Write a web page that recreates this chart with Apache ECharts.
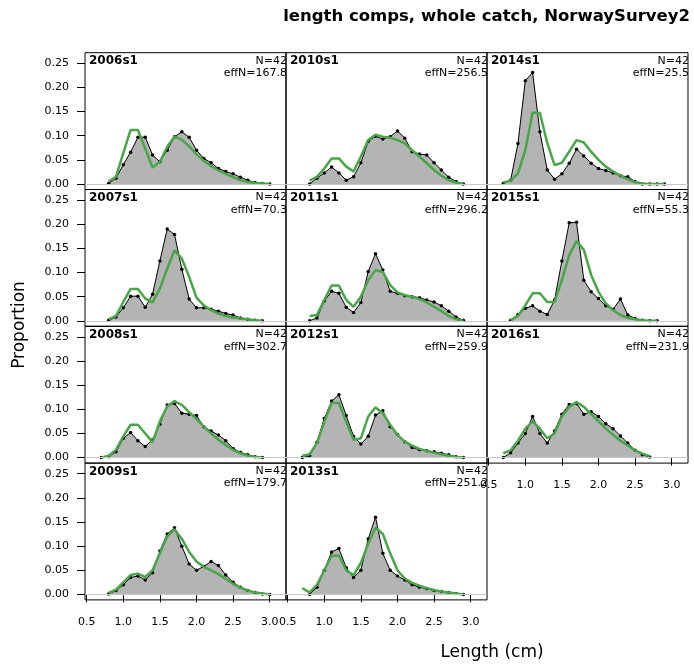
<!DOCTYPE html>
<html><head><meta charset="utf-8">
<script src="https://cdn.jsdelivr.net/npm/echarts@6/dist/echarts.min.js"></script>
<style>html,body{margin:0;padding:0;background:#fff}#c{width:694px;height:668px}</style>
</head><body><div id="c"></div>
<script>
// Length bins (cm)
const bins = [0.7,0.8,0.9,1.0,1.1,1.2,1.3,1.4,1.5,1.6,1.7,1.8,1.9,2.0,2.1,2.2,2.3,2.4,2.5,2.6,2.7,2.8,2.9,3.0];
const xTickValues = [0.5,1.0,1.5,2.0,2.5,3.0];
const yTickValues = [0.00,0.05,0.10,0.15,0.20,0.25];

const panelNames = ['2006s1','2007s1','2008s1','2009s1','2010s1','2011s1','2012s1','2013s1','2014s1','2015s1','2016s1'];
const nSamp = [42,42,42,42,42,42,42,42,42,42,42];
const effN = ['167.8','70.3','302.7','179.7','256.5','296.2','259.9','251.2','25.5','55.3','231.9'];

// observed proportions (null = no bin drawn)
const obs2006 = [null,0.001,0.012,0.04,0.066,0.097,0.097,0.06,0.046,0.07,0.098,0.108,0.097,0.07,0.053,0.044,0.032,0.026,0.021,0.014,0.008,0.003,0.001,0];
const exp2006 = [null,0.005,0.015,0.064,0.112,0.112,0.073,0.034,0.046,0.077,0.098,0.092,0.078,0.062,0.048,0.037,0.028,0.021,0.014,0.008,0.004,0.002,0.001,0];
const obs2007 = [null,0.001,0.008,0.027,0.051,0.051,0.028,0.055,0.124,0.19,0.179,0.107,0.045,0.027,0.027,0.024,0.02,0.015,0.012,0.006,0.003,0.001,0,null];
const exp2007 = [null,0.003,0.01,0.039,0.066,0.066,0.046,0.038,0.067,0.108,0.146,0.129,0.091,0.048,0.032,0.022,0.015,0.01,0.007,0.005,0.003,0.001,0,null];
const obs2008 = [0,0.002,0.012,0.04,0.052,0.035,0.023,0.037,0.069,0.109,0.112,0.092,0.09,0.087,0.064,0.055,0.047,0.035,0.019,0.011,0.006,0.002,0,null];
const exp2008 = [0,0.004,0.016,0.044,0.068,0.068,0.05,0.032,0.075,0.106,0.117,0.109,0.094,0.08,0.064,0.05,0.037,0.026,0.016,0.009,0.004,0.001,0,null];
const obs2009 = [null,0.001,0.008,0.02,0.035,0.038,0.03,0.045,0.09,0.125,0.138,0.1,0.063,0.05,0.058,0.068,0.06,0.04,0.025,0.015,0.008,0.004,0.001,0];
const exp2009 = [null,0.003,0.01,0.025,0.04,0.043,0.036,0.05,0.085,0.12,0.135,0.115,0.088,0.068,0.057,0.05,0.042,0.032,0.022,0.014,0.008,0.004,0.002,0];
const obs2010 = [null,0,0.012,0.023,0.035,0.023,0.008,0.015,0.044,0.088,0.099,0.093,0.098,0.11,0.095,0.067,0.062,0.06,0.044,0.029,0.014,0.005,0,null];
const exp2010 = [null,0.007,0.015,0.032,0.053,0.053,0.036,0.026,0.057,0.091,0.102,0.098,0.096,0.091,0.084,0.07,0.057,0.043,0.029,0.017,0.008,0.003,0,null];
const obs2011 = [null,0,0.006,0.041,0.061,0.057,0.028,0.017,0.038,0.102,0.139,0.105,0.061,0.057,0.052,0.05,0.048,0.043,0.039,0.031,0.02,0.008,0.001,null];
const exp2011 = [null,0.01,0.012,0.043,0.073,0.073,0.043,0.029,0.05,0.084,0.105,0.101,0.074,0.059,0.053,0.05,0.045,0.038,0.029,0.02,0.01,0.003,0,null];
const obs2012 = [0,0.004,0.032,0.081,0.117,0.13,0.087,0.044,0.028,0.044,0.088,0.097,0.064,0.048,0.033,0.021,0.016,0.014,0.012,0.009,0.006,0.002,0,null];
const exp2012 = [0.004,0.007,0.03,0.074,0.113,0.113,0.074,0.037,0.04,0.085,0.104,0.092,0.068,0.047,0.033,0.025,0.018,0.014,0.01,0.007,0.004,0.001,0,null];
const obs2013 = [null,0,0.015,0.05,0.088,0.095,0.055,0.035,0.05,0.115,0.16,0.085,0.05,0.038,0.03,0.02,0.015,0.012,0.008,0.006,0.004,0.002,0,null];
const exp2013 = [0.013,0.004,0.02,0.05,0.08,0.08,0.05,0.04,0.065,0.105,0.138,0.125,0.085,0.05,0.033,0.024,0.018,0.013,0.009,0.006,0.004,0.002,0,null];
const obs2014 = [0.001,0.008,0.084,0.214,0.231,0.108,0.029,0.01,0.021,0.043,0.072,0.058,0.043,0.032,0.028,0.023,0.017,0.015,0.005,0,0,0,0,null];
const exp2014 = [0.003,0.007,0.022,0.07,0.148,0.147,0.085,0.039,0.044,0.067,0.091,0.086,0.067,0.05,0.036,0.026,0.017,0.01,0.004,0.001,0,0,0,null];
const obs2015 = [null,0.001,0.013,0.026,0.031,0.02,0.013,0.043,0.124,0.203,0.204,0.084,0.06,0.046,0.031,0.024,0.045,0.012,0.005,0.001,0,0,null,null];
const exp2015 = [null,0.001,0.01,0.032,0.057,0.057,0.039,0.039,0.084,0.136,0.165,0.147,0.095,0.06,0.036,0.022,0.012,0.006,0.003,0.001,0,0,null,null];
const obs2016 = [0,0.01,0.03,0.05,0.085,0.05,0.03,0.055,0.09,0.11,0.112,0.09,0.095,0.085,0.07,0.06,0.045,0.03,0.015,0.006,0.001,null,null,null];
const exp2016 = [0.009,0.015,0.035,0.06,0.075,0.06,0.04,0.05,0.085,0.105,0.115,0.105,0.09,0.075,0.06,0.047,0.035,0.025,0.015,0.008,0.003,null,null,null];

const obsList = [obs2006,obs2007,obs2008,obs2009,obs2010,obs2011,obs2012,obs2013,obs2014,obs2015,obs2016];
const expList = [exp2006,exp2007,exp2008,exp2009,exp2010,exp2011,exp2012,exp2013,exp2014,exp2015,exp2016];

// layout
const L0 = 85, T0 = 52.7, CW = 201, RH = 136.8;
const XMIN = 0.477, XMAX = 3.223, YMIN = -0.0114, YMAX = 0.272;
const FONT = '"DejaVu Sans", sans-serif';
const pos = [[0,0],[0,1],[0,2],[0,3],[1,0],[1,1],[1,2],[1,3],[2,0],[2,1],[2,2]];
const bottomIdx = [3,7,10];

function toPairs(vals){ return bins.map((x,k)=> vals[k]==null ? null : [x, vals[k]]).filter(d=>d); }

const grid=[], xAxis=[], yAxis=[], series=[], graphic=[];
panelNames.forEach((name,i)=>{
  const [col,row] = pos[i];
  const left = L0 + col*CW, top = T0 + row*RH;
  const isBottom = bottomIdx.includes(i), isLeft = col===0;
  grid.push({left:left, top:top, width:CW, height:RH, show:true, borderColor:'#000', borderWidth:1, backgroundColor:'rgba(0,0,0,0)'});
  xAxis.push({type:'value', gridIndex:i, min:XMIN, max:XMAX,
    axisLine:{show:false}, splitLine:{show:false},
    axisTick:{show:isBottom, length:8, customValues:xTickValues, lineStyle:{color:'#000'}},
    axisLabel:{show:isBottom, customValues:xTickValues, margin:17, color:'#000', fontSize:11, fontFamily:FONT, formatter:v=>v.toFixed(1)}});
  yAxis.push({type:'value', gridIndex:i, min:YMIN, max:YMAX,
    axisLine:{show:false}, splitLine:{show:false},
    axisTick:{show:isLeft, length:8, customValues:yTickValues, lineStyle:{color:'#000'}},
    axisLabel:{show:isLeft, customValues:yTickValues, margin:16, color:'#000', fontSize:11, fontFamily:FONT, formatter:v=>v.toFixed(2)}});
  const od = toPairs(obsList[i]), ed = toPairs(expList[i]);
  series.push({type:'line', xAxisIndex:i, yAxisIndex:i, data:od, symbol:'none', lineStyle:{width:0}, areaStyle:{color:'#b4b4b4', opacity:1, origin:0}, silent:true, z:1,
    markLine:{silent:true, symbol:'none', label:{show:false}, lineStyle:{color:'#c8c8c8', width:1, type:'solid'}, data:[{yAxis:0}]}});
  series.push({type:'line', xAxisIndex:i, yAxisIndex:i, data:od, symbol:'circle', symbolSize:3.5, showAllSymbol:true, itemStyle:{color:'#000'}, lineStyle:{color:'#000', width:1}, z:3});
  series.push({type:'line', xAxisIndex:i, yAxisIndex:i, data:ed, symbol:'none', lineStyle:{color:'#48a548', width:2.5}, z:4});
  graphic.push({type:'text', x:left+4, y:top+2.5, style:{text:name, font:'bold 12px '+FONT, fill:'#000', align:'left', verticalAlign:'top'}, z:10});
  graphic.push({type:'text', x:left+CW+1, y:top+2.5, style:{text:'N='+nSamp[i], font:'11px '+FONT, fill:'#000', align:'right', verticalAlign:'top'}, z:10});
  graphic.push({type:'text', x:left+CW+1, y:top+15, style:{text:'effN='+effN[i], font:'11px '+FONT, fill:'#000', align:'right', verticalAlign:'top'}, z:10});
});
graphic.push({type:'text', x:690, y:8, style:{text:'length comps, whole catch, NorwaySurvey2', font:'bold 16.5px '+FONT, fill:'#000', align:'right', verticalAlign:'top'}});
graphic.push({type:'text', x:20, y:325, rotation:Math.PI/2, style:{text:'Proportion', font:'17px '+FONT, fill:'#000', align:'center', verticalAlign:'middle'}});
graphic.push({type:'text', x:492, y:653, style:{text:'Length (cm)', font:'17px '+FONT, fill:'#000', align:'center', verticalAlign:'middle'}});

const chart = echarts.init(document.getElementById('c'), null, {renderer:'canvas'});
chart.setOption({animation:false, backgroundColor:'#fff', grid, xAxis, yAxis, series, graphic});
</script></body></html>
